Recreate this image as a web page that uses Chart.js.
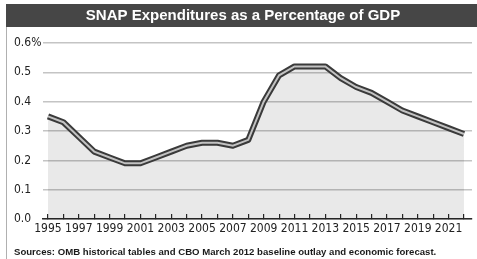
<!DOCTYPE html>
<html>
<head>
<meta charset="utf-8">
<script src="https://cdn.jsdelivr.net/npm/chart.js@4/dist/chart.umd.min.js"></script>
<style>
  html, body { margin: 0; padding: 0; background: #fff; }
  #wrap { position: relative; width: 477px; height: 259px; }
</style>
</head>
<body>
<div id="wrap"><canvas id="c" width="477" height="259"></canvas></div>
<script>
const titleText = 'SNAP Expenditures as a Percentage of GDP';
const sourceText = 'Sources: OMB historical tables and CBO March 2012 baseline outlay and economic forecast.';
const years = [1995,1996,1997,1998,1999,2000,2001,2002,2003,2004,2005,2006,2007,2008,2009,2010,2011,2012,2013,2014,2015,2016,2017,2018,2019,2020,2021,2022];
const snapPctGdp = [0.35,0.33,0.28,0.23,0.21,0.19,0.19,0.21,0.23,0.25,0.26,0.26,0.25,0.27,0.40,0.49,0.52,0.52,0.52,0.48,0.45,0.43,0.40,0.37,0.35,0.33,0.31,0.29];
const yTickLabels = {0:'0.0',1:'0.1',2:'0.2',3:'0.3',4:'0.4',5:'0.5',6:'0.6%'};

const points = years.map((y, i) => ({x: y, y: snapPctGdp[i]}));

const frame = {
  id: 'frame',
  beforeDraw(chart) {
    const ctx = chart.ctx;
    ctx.save();
    ctx.fillStyle = '#fff';
    ctx.fillRect(0, 0, chart.width, chart.height);
    ctx.strokeStyle = '#b0b0b0';
    ctx.lineWidth = 1;
    ctx.beginPath();
    ctx.moveTo(6.5, 4);
    ctx.lineTo(6.5, chart.height);
    ctx.stroke();
    ctx.fillStyle = '#464646';
    ctx.fillRect(6, 4, chart.width - 6, 23);
    ctx.restore();
  }
};

const narrow = "'Liberation Sans Narrow', 'DejaVu Sans Condensed', sans-serif";

new Chart(document.getElementById('c'), {
  type: 'line',
  data: {
    datasets: [
      {
        data: points,
        borderColor: '#c2c2c2',
        borderWidth: 2,
        pointRadius: 0,
        fill: false,
        tension: 0,
        order: 0
      },
      {
        data: points,
        borderColor: '#3a3a3a',
        borderWidth: 6,
        pointRadius: 0,
        fill: 'origin',
        backgroundColor: 'rgba(0,0,0,0.085)',
        tension: 0,
        borderJoinStyle: 'round',
        borderCapStyle: 'butt',
        order: 1
      }
    ]
  },
  options: {
    responsive: false,
    animation: false,
    devicePixelRatio: 1,
    layout: { padding: { left: 14, right: 5, top: 4, bottom: 1 } },
    plugins: {
      legend: { display: false },
      tooltip: { enabled: false },
      title: {
        display: true,
        text: titleText,
        color: '#ffffff',
        font: { family: "'Liberation Sans', Arial, sans-serif", size: 15, weight: 'bold' },
        padding: { top: 3, bottom: 18 }
      },
      subtitle: {
        display: true,
        position: 'bottom',
        align: 'start',
        text: sourceText,
        color: '#1a1a1a',
        font: { family: "'Liberation Sans', Arial, sans-serif", size: 9.6, weight: 'bold' },
        padding: { top: 2, bottom: 0 }
      }
    },
    scales: {
      x: {
        type: 'linear',
        min: 1994.676,
        max: 2022.52,
        border: { display: true, color: '#2a2a2a', width: 1.5 },
        grid: { drawOnChartArea: false, drawTicks: true, tickLength: -5, color: '#2a2a2a', lineWidth: 1.2 },
        ticks: {
          stepSize: 1,
          includeBounds: false,
          autoSkip: false,
          maxRotation: 0,
          padding: 8,
          color: '#222',
          font: { family: narrow, size: 12 },
          callback: (v) => (Number.isInteger(v) && v % 2 === 1) ? String(v) : ''
        }
      },
      y: {
        min: 0,
        max: 0.6,
        afterFit: (s) => { s.width = 29; },
        border: { display: false },
        grid: { color: '#c4c4c4', lineWidth: 1.4, drawTicks: false },
        ticks: {
          stepSize: 0.05,
          padding: 6,
          crossAlign: 'far',
          color: '#222',
          font: { family: narrow, size: 12 },
          callback: (v) => {
            const k = Math.round(v * 20);
            return k % 2 === 0 ? yTickLabels[k / 2] : '';
          }
        }
      }
    }
  },
  plugins: [frame]
});
</script>
</body>
</html>
